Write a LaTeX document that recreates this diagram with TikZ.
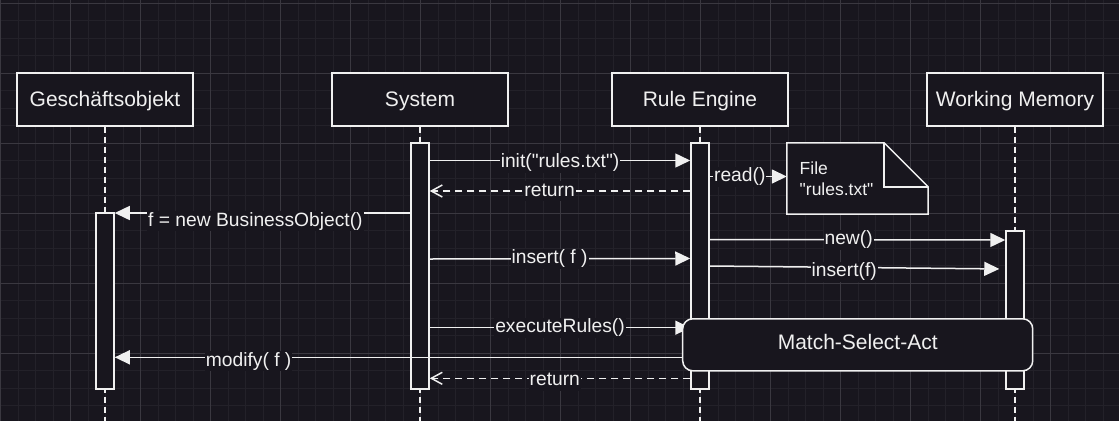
\documentclass[tikz,border=0pt]{standalone}
\usepackage{fontspec}
\setmainfont{Liberation Sans}
\usetikzlibrary{arrows.meta}
\definecolor{bg}{RGB}{24,22,30}
\definecolor{gridminor}{RGB}{35,33,41}
\definecolor{gridmajor}{RGB}{58,56,64}
\definecolor{fg}{RGB}{240,240,240}

\begin{document}
\begin{tikzpicture}[x=1pt,y=-1pt,
  actor/.style={draw=fg,fill=bg,line width=1.5pt,minimum width=176pt,minimum height=53pt,inner sep=0pt,text=fg,text height=15pt,text depth=0.6pt,font=\fontsize{21}{25}\selectfont},
  lifebar/.style={draw=fg,fill=bg,line width=1.5pt,minimum width=18pt,inner sep=0pt},
  lifeline/.style={draw=fg,line width=1.5pt,dash pattern=on 6pt off 4pt},
  msg/.style={draw=fg,line width=1.5pt,-{Triangle[length=15pt,width=14pt]}},
  reply/.style={draw=fg,line width=1.5pt,dash pattern=on 7pt off 5pt,-{Straight Barb[length=11pt,width=12pt]}},
  lbl/.style={fill=bg,text=fg,inner sep=1pt,text height=14pt,text depth=4pt,font=\fontsize{19.25}{23}\selectfont}]

\useasboundingbox (0,0) rectangle (1119,421);
\fill[bg] (0,0) rectangle (1119,421);

\foreach \i in {0,...,63}
{\draw[gridminor,line width=1pt] ({0.7+\i*17.5},0) -- ({0.7+\i*17.5},421);}
\foreach \j in {0,...,23}
{\draw[gridminor,line width=1pt] (0,{3.3+\j*17.5}) -- (1119,{3.3+\j*17.5});}
\foreach \i in {0,...,15}
{\draw[gridmajor,line width=1pt] ({0.7+\i*70},0) -- ({0.7+\i*70},421);}
\foreach \j in {0,...,5}
{\draw[gridmajor,line width=1pt] (0,{3.3+\j*70}) -- (1119,{3.3+\j*70});}

\coordinate (bottom) at (0,421);

\node[actor] (go) at (105,99.5) {Geschäftsobjekt};
\node[actor] (sys) at (420,99.5) {System};
\node[actor] (re) at (700,99.5) {Rule Engine};
\node[actor] (wm) at (1015,99.5) {Working Memory};

\draw[lifeline] (go.south) -- (go.south |- bottom);
\draw[lifeline] (sys.south) -- (sys.south |- bottom);
\draw[lifeline] (re.south) -- (re.south |- bottom);
\draw[lifeline] (wm.south) -- (wm.south |- bottom);

\node[lifebar,minimum height=176pt] (gobar) at (105,301) {};
\node[lifebar,minimum height=246pt] (sysbar) at (420,266) {};
\node[lifebar,minimum height=246pt] (rebar) at (700,266) {};
\node[lifebar,minimum height=158pt] (wmbar) at (1015,310) {};

\node[minimum width=141pt,minimum height=71pt,inner sep=0pt] (file) at (857.5,178.5) {};
\draw[fg,fill=bg,line width=1.5pt] (file.south west) -- (file.north west) -- ([xshift=-44pt]file.north east) -- ([yshift=-44pt]file.north east) -- (file.south east) -- cycle;
\draw[fg,line width=1.5pt] ([xshift=-44pt]file.north east) -- ([xshift=-44pt,yshift=-44pt]file.north east) -- ([yshift=-44pt]file.north east);
\node[anchor=west,align=left,inner sep=0pt,text=fg,font=\fontsize{17.5}{21.5}\selectfont] (filetext) at (799.5,178.5) {File\\\textquotedbl rules.txt\textquotedbl};

\draw[msg] (sysbar.east |- 0,160.5) -- node[lbl,yshift=-2pt]{init(\textquotedbl rules.txt\textquotedbl)} (rebar.west |- 0,160.5);
\draw[reply] (rebar.west |- 0,191) -- node[lbl,pos=0.54]{return} (sysbar.east |- 0,191);
\draw[msg] (rebar.east |- 0,176.5) -- node[lbl,pos=0.39]{read()} (file.west |- 0,176.5);
\draw[msg] (sysbar.west |- 0,213) -- node[lbl,pos=0.524,yshift=-8pt]{f = new BusinessObject()} (gobar.east |- 0,213);
\draw[msg] (rebar.east |- 0,239.5) -- node[lbl,pos=0.47]{new()} (wmbar.west |- 0,240);
\draw[msg] (sysbar.east |- 0,259) -- node[lbl,pos=0.46]{insert( f )} (rebar.west |- 0,258.5);
\draw[msg,shorten >=6pt] (rebar.east |- 0,266) -- node[lbl,pos=0.455,yshift=-4.5pt]{insert(f)} (wmbar.west |- 0,269);
\draw[msg] (sysbar.east |- 0,327.7) -- node[lbl]{executeRules()} (rebar.west |- 0,327.7);

\node[draw=fg,fill=bg,line width=1.5pt,rounded corners=10pt,minimum width=350pt,minimum height=52pt,text=fg,text height=15pt,text depth=6pt,font=\fontsize{21}{25}\selectfont] (msa) at (857.7,344.8) {Match-Select-Act};

\draw[msg] (msa.west |- 0,357.3) -- node[lbl,pos=0.764,yshift=-4pt]{modify( f )} (gobar.east |- 0,357.3);
\draw[reply] (rebar.west |- 0,378.3) -- node[lbl,pos=0.52,yshift=-2.5pt]{return} (sysbar.east |- 0,378.3);

\end{tikzpicture}
\end{document}
